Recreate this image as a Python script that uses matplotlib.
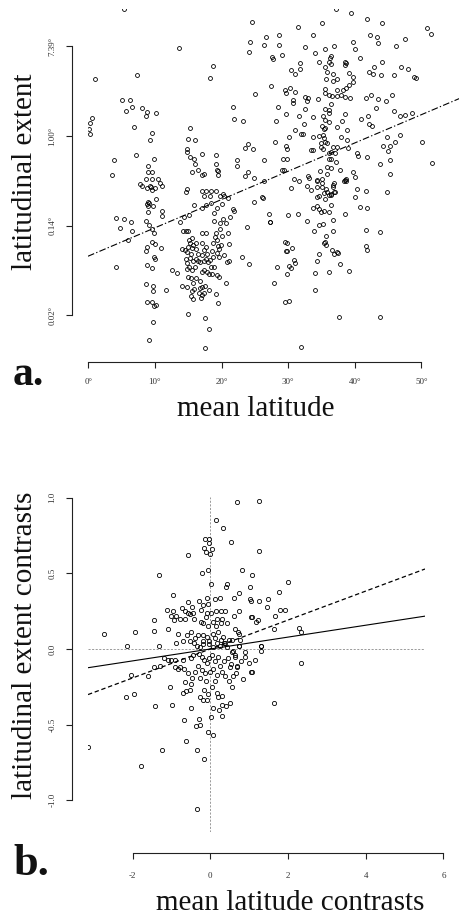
import numpy as np
import matplotlib
matplotlib.use("Agg")
import matplotlib.pyplot as plt

W, H, DPI = 460, 916, 100
plt.rcParams["font.family"] = ["Liberation Serif", "DejaVu Serif"]

# ---------------- panel a: species ranges ----------------
mean_lat = [
    5.3, 13.6, 18.7, 18.3, 1.0, 7.3, 5.1, 6.2, 5.7, 6.5,
    8.1, 8.8, 8.7, 10.1, 0.5, 0.3, 0.1, 0.2, 6.9, 9.6,
    9.2, 15.2, 15.0, 16.0, 7.2, 9.8, 3.8, 14.8, 14.8, 15.3,
    15.9, 16.0, 17.0, 19.2, 19.1, 8.9, 8.9, 9.6, 15.5, 16.4,
    17.1, 17.4, 19.3, 19.4, 19.4, 3.6, 8.7, 9.5, 10.5, 10.7,
    11.0, 7.8, 8.1, 8.8, 9.3, 9.6, 10.0, 9.4, 14.6, 14.8,
    17.0, 17.7, 18.4, 19.1, 19.8, 20.2, 20.4, 17.4, 18.3, 10.1,
    8.9, 8.8, 9.0, 9.1, 9.7, 11.1, 11.0, 8.9, 4.2, 5.4,
    6.4, 4.8, 6.6, 5.9, 8.6, 9.1, 9.6, 9.8, 9.6, 10.0,
    10.9, 8.8, 8.7, 9.8, 10.0, 8.8, 9.6, 4.2, 12.6, 13.3,
    11.7, 8.6, 9.7, 9.7, 8.8, 9.6, 9.9, 10.1, 9.7, 9.1,
    14.9, 17.5, 18.1, 17.5, 15.8, 15.1, 14.3, 13.8, 17.0, 17.7,
    18.4, 19.3, 20.0, 21.0,
    14.2, 14.6, 14.9, 15.5, 15.1, 15.3, 15.0, 15.5, 15.7, 14.1,
    14.5, 14.8, 15.4, 15.2, 14.6, 15.7, 14.8, 16.2, 16.2, 16.4,
    16.1, 16.7, 16.0, 15.1, 17.0, 17.7, 17.1, 17.6, 17.4, 17.1,
    17.8, 17.6, 17.4, 18.3, 17.9, 18.7, 18.5, 18.7, 19.2, 19.0,
    19.3, 19.4, 19.6, 19.3, 19.6, 19.9, 20.1, 19.7, 20.6, 19.8,
    20.2, 18.8, 18.9, 20.9, 21.1, 20.8, 20.4, 21.3,
    14.8, 15.6, 15.0, 15.4, 16.2, 16.7, 15.7, 14.8, 14.1, 15.5,
    15.9, 16.7, 17.1, 17.5, 17.1, 17.3, 17.8, 18.4, 18.8, 18.6,
    18.1, 19.3, 19.6, 18.1, 17.4, 17.0, 16.6, 15.4, 15.7, 16.9,
    19.1, 19.4, 20.7, 21.1, 16.4,
    37.2, 39.4, 24.5, 41.9, 44.1, 31.5, 35.1, 50.8, 51.5, 26.6,
    28.7, 33.7, 24.2, 26.3, 28.6, 42.3, 43.4, 43.5, 39.7, 46.2,
    47.6, 24.1, 27.5, 27.7, 29.1, 32.6, 35.5, 36.9, 34.0, 40.1,
    40.8, 36.3, 36.5, 34.6, 36.2, 36.4, 38.6, 38.7, 38.5, 31.8,
    30.5, 31.1, 31.8, 44.1, 42.9, 42.2, 42.8, 43.9, 45.9, 47.0,
    48.0, 48.9, 49.2, 35.6, 35.8, 36.7, 35.7, 36.8, 37.3, 39.1,
    39.7, 39.7, 39.1, 38.7, 38.3, 27.4, 25.0, 29.6, 29.7, 30.3,
    31.0, 30.8, 30.7, 32.5, 33.0, 32.9, 32.5, 34.5, 35.6, 35.6,
    36.1, 36.6, 37.4, 38.0, 38.6, 39.3, 37.4, 41.7, 42.4, 43.5,
    44.7, 45.6, 43.2, 21.7, 21.9, 23.2,
    28.5, 29.7, 28.2, 31.6, 33.7, 35.6, 36.1, 36.5, 36.2, 35.2,
    35.5, 36.2, 37.3, 38.6, 38.1, 38.8, 40.9, 42.0, 42.2, 42.6,
    45.9, 46.8, 47.5, 48.6, 50.1, 51.6, 30.1, 32.4, 31.1, 32.0,
    32.2, 33.8, 34.7, 35.4, 35.1, 35.6, 35.2, 35.4, 28.1, 29.7,
    29.9, 35.0, 34.9, 35.5, 35.8, 35.3, 33.5, 33.7, 36.7, 37.4,
    37.9, 38.8, 39.0, 40.3, 40.5, 41.8, 44.2, 44.9, 45.3, 46.1,
    46.8, 45.0, 45.3, 43.8, 45.3, 23.5, 23.9, 24.7, 22.3, 22.3,
    26.3, 29.3, 29.9, 29.1, 29.4, 23.5, 23.9, 24.8, 26.4, 30.9,
    31.6, 33.0, 33.1, 34.3, 34.4, 34.8, 35.1, 35.9, 35.8, 36.5,
    36.1, 37.0, 36.1, 36.4, 37.2, 36.5, 37.8, 38.6, 39.8, 40.0,
    38.7, 40.3, 41.7, 44.8, 30.4, 32.8, 33.4, 34.3, 35.1, 35.7,
    35.8, 36.9, 36.8, 37.1, 26.0, 26.2, 34.4, 34.7, 35.5, 36.1,
    36.4, 40.0,
    35.1, 35.4, 36.8, 36.9, 36.5, 38.4, 38.7, 24.8, 21.7, 21.9,
    23.8, 27.1, 27.2, 27.3, 30.0, 31.5, 32.8, 33.7, 34.4, 34.6,
    34.9, 35.4, 36.2, 36.5, 38.5, 40.8, 41.8, 33.9, 34.6, 35.3,
    36.7, 36.8, 41.7, 43.8, 29.5, 29.8, 29.7, 29.8, 30.6, 30.9,
    31.0, 30.1, 30.4, 28.4, 29.8, 27.8, 23.0, 24.1, 35.4, 35.6,
    35.7, 35.7, 34.6, 34.3, 36.6, 36.9, 37.4, 37.5, 37.8, 34.1,
    36.1, 39.2, 34.0, 41.7, 41.8, 29.6, 30.2, 37.6, 43.8, 31.9,
]
# natural log of latitudinal extent (degrees)
log_extent = [
    2.83, 1.97, 1.56, 1.29, 1.28, 1.36, 0.80, 0.80, 0.56, 0.64,
    0.62, 0.54, 0.44, 0.51, 0.40, 0.28, 0.16, 0.04, 0.21, 0.07,
    -0.10, 0.17, -0.07, -0.10, -0.42, -0.51, -0.54, -0.29, -0.35, -0.48,
    -0.52, -0.62, -0.41, -0.43, -0.62, -0.68, -0.80, -0.80, -0.80, -0.77,
    -0.87, -0.85, -0.76, -0.78, -0.86, -0.86, -0.96, -0.97, -0.96, -1.04,
    -1.11, -1.08, -1.11, -1.17, -1.11, -1.20, -1.17, -1.14, -1.24, -1.18,
    -1.23, -1.23, -1.23, -1.22, -1.34, -1.30, -1.35, -1.35, -1.34, -1.41,
    -1.47, -1.52, -1.56, -1.49, -1.56, -1.67, -1.78, -1.69, -1.82, -1.85,
    -1.92, -2.06, -2.12, -2.32, -1.90, -1.99, -2.08, -2.16, -2.36, -2.42,
    -2.49, -2.47, -2.57, -2.71, -2.74, -2.89, -2.95, -2.92, -2.99, -3.05,
    -3.44, -3.30, -3.35, -3.47, -3.70, -3.70, -3.79, -3.78, -4.14, -4.56,
    -3.97, -4.07, -4.31, -4.72, -1.55, -1.76, -1.81, -1.92, -1.61, -1.53,
    -1.50, -1.60, -1.52, -1.38,
    -2.11, -2.11, -2.11, -2.27, -2.32, -2.39, -2.47, -2.51, -2.44, -2.53,
    -2.54, -2.60, -2.63, -2.72, -2.74, -2.80, -2.83, -2.39, -2.53, -2.63,
    -2.74, -2.82, -2.92, -2.92, -2.16, -2.16, -2.39, -2.47, -2.54, -2.66,
    -2.63, -2.74, -2.78, -2.77, -2.81, -2.71, -2.56, -2.39, -2.16, -2.25,
    -2.32, -2.45, -2.53, -2.62, -2.69, -2.43, -2.23, -2.08, -1.95, -1.95,
    -1.86, -1.89, -1.72, -2.17, -2.41, -2.81, -2.65, -1.80,
    -2.97, -2.99, -3.15, -3.18, -3.18, -3.23, -3.29, -3.36, -3.35, -3.46,
    -3.41, -3.39, -3.38, -3.35, -3.03, -2.99, -3.03, -2.92, -2.93, -3.09,
    -3.08, -3.10, -3.14, -3.44, -3.50, -3.55, -3.51, -3.58, -3.64, -3.61,
    -3.52, -3.73, -3.27, -2.80, -2.80,
    2.83, 2.74, 2.55, 2.60, 2.53, 2.44, 2.51, 2.42, 2.28, 2.21,
    2.26, 2.26, 2.09, 2.02, 2.02, 2.26, 2.21, 2.07, 2.10, 2.01,
    2.16, 1.87, 1.76, 1.72, 1.80, 1.98, 1.95, 2.01, 1.84, 1.93,
    1.75, 1.74, 1.78, 1.64, 1.64, 1.60, 1.64, 1.62, 1.58, 1.62,
    1.47, 1.39, 1.49, 1.66, 1.53, 1.43, 1.38, 1.37, 1.36, 1.54,
    1.49, 1.31, 1.29, 1.53, 1.43, 1.38, 1.27, 1.23, 1.28, 1.41,
    1.32, 1.20, 1.14, 1.08, 1.03, 1.12, 0.94, 1.02, 0.96, 1.06,
    0.97, 0.80, 0.74, 0.88, 0.85, 0.77, 0.61, 0.83, 1.04, 0.95,
    0.91, 0.89, 0.89, 0.91, 0.87, 0.84, 1.03, 0.85, 0.92, 0.83,
    0.77, 0.92, 0.63, 0.65, 0.37, 0.34,
    0.64, 0.49, 0.33, 0.45, 0.43, 0.61, 0.57, 0.71, 0.51, 0.44,
    0.36, 0.31, 0.20, 0.49, 0.33, 0.13, 0.37, 0.45, 0.27, 0.22,
    0.55, 0.45, 0.46, 0.52, -0.13, -0.61, -0.02, 0.27, 0.14, 0.05,
    0.05, -0.02, 0.00, 0.16, 0.22, 0.18, 0.02, -0.04, -0.13, -0.22,
    -0.29, -0.15, -0.24, -0.13, -0.16, -0.28, -0.32, -0.31, -0.24, -0.24,
    -0.03, -0.09, -0.27, -0.39, -0.44, -0.48, -0.22, -0.02, -0.22, -0.13,
    0.03, -0.33, -0.53, -0.63, -0.84, -0.26, -0.18, -0.28, -0.54, -0.68,
    -0.54, -0.51, -0.52, -0.76, -0.77, -0.89, -0.80, -0.93, -1.01, -0.97,
    -1.00, -0.89, -0.93, -0.99, -1.00, -0.79, -0.96, -0.69, -0.85, -0.51,
    -0.51, -0.39, -0.37, -0.35, -0.59, -0.71, -0.76, -0.99, -0.81, -0.92,
    -0.95, -1.18, -1.23, -1.26, -1.15, -1.12, -1.20, -1.14, -1.14, -1.18,
    -1.25, -1.04, -1.09, -1.24, -1.37, -1.38, -1.36, -1.35, -1.40, -1.32,
    -1.30, -1.37,
    -1.04, -1.28, -1.13, -1.26, -1.32, -1.00, -1.00, -1.47, -1.64, -1.67,
    -2.04, -1.75, -1.92, -1.93, -1.76, -1.74, -1.90, -1.61, -1.57, -1.63,
    -1.70, -1.67, -1.70, -1.54, -1.73, -1.59, -1.61, -2.13, -1.98, -1.97,
    -1.88, -2.13, -2.09, -2.15, -2.37, -2.39, -2.56, -2.57, -2.49, -2.77,
    -2.83, -2.90, -2.94, -2.92, -3.08, -3.29, -2.69, -2.86, -2.39, -2.37,
    -2.43, -2.24, -2.64, -2.80, -2.54, -2.63, -2.59, -2.61, -2.86, -3.05,
    -3.04, -3.01, -3.44, -2.46, -2.55, -3.70, -3.68, -4.04, -4.04, -4.71,
]
fit_a_intercept, fit_a_slope = -2.68, 0.0631
lat_ticks = [0, 10, 20, 30, 40, 50]
log_ext_ticks = [-4, -2, 0, 2]

# ---------------- panel b: independent contrasts ----------------
lat_contrast = [
    0.14, 0.32, -0.14, -0.03, -0.16, -0.03, 0.04, -0.12, 0.00, -0.57,
    -0.22, -0.07, -1.32, 0.01, 0.43, 0.40, -0.96, -0.58, -0.29, -0.20,
    -0.08, -0.06, 0.12, 0.25, -1.12, -0.96, -0.88, -1.02, -0.74, -0.64,
    -0.57, -0.46, -0.53, -0.44, -0.23, -0.08, -0.12, 0.01, 0.15, 0.27,
    0.18, 0.30, 0.39, -1.44, -0.93, -0.78, -0.64, -0.41, -0.24, -0.18,
    -0.05, 0.06, 0.15, 0.27, 0.42, -2.73, -1.95, -1.46, -1.10, -0.83,
    -0.71, -0.61, -0.49, -0.52, -0.39, -0.32, -0.18, -0.18, -0.09, -0.03,
    0.08, 0.12, 0.21, 0.27, 0.33, 0.39, 0.49, -2.15, -1.32, -0.89,
    0.68, 1.26, 0.53, 1.26, 0.82, 1.07, 1.03, 0.73, 1.76, 2.00,
    0.61, 1.01, 1.06, 1.25, 1.48, 1.45, 0.73, 0.62, 1.66, 1.79,
    1.93, 1.05, 1.07, 1.18, 1.22, 0.63, 0.70, 0.74, 1.63, 2.28,
    2.34, 0.56, 0.76, 0.74, 1.30,
    -0.43, -0.35, -0.26, -0.18, -0.03, 0.08, 0.17, 0.25, 0.34, 0.42,
    -1.45, -1.29, -2.05, -1.60, -2.18, -1.96, -1.43, -0.99, -1.05, -1.19,
    -1.10, -1.01, -0.90, -0.78, -0.68, -0.71, -0.50, -0.44, -0.92, -0.83,
    -0.58, -0.46, -0.65, -0.49, -0.71, -0.63, -0.52, -0.49, -0.27, -0.16,
    -0.18, -0.09, -0.05, 0.05, 0.12, 0.16, 0.21, 0.29, 0.29, 0.22,
    0.40, 0.51, -0.30, -0.21, -0.16, -0.09, -0.03, 0.04, 0.12, 0.21,
    0.25, 0.35, 0.45, 0.51, -0.31, -0.22, -0.14, -0.01, 0.08, 0.16,
    0.29, 0.38, 0.49, -0.12, -0.27, -0.39, -0.68, -0.28, -0.27, -0.37,
    -0.06, 0.08, -0.63, -1.24, -0.35, -0.15, -1.78, -3.16, -0.35, 0.08,
    0.01, 0.29,
    1.31, 1.31, 0.75, 0.59, 0.55, 0.63, 0.64, 0.89, 0.89, 1.00,
    1.15, 0.80, 0.53, 0.68, 0.68, 0.67, 0.58, 0.83, 0.55, 1.05,
    1.07, 1.63, 2.34,
]
extent_contrast = [
    0.85, 0.80, 0.73, 0.73, 0.67, 0.70, 0.66, 0.64, 0.63, 0.62,
    0.50, 0.52, 0.49, 0.43, 0.43, 0.41, 0.36, 0.31, 0.32, 0.29,
    0.34, 0.30, 0.33, 0.34, 0.26, 0.25, 0.22, 0.22, 0.27, 0.25,
    0.24, 0.28, 0.23, 0.24, 0.26, 0.24, 0.21, 0.24, 0.25, 0.25,
    0.20, 0.20, 0.25, 0.19, 0.19, 0.20, 0.20, 0.20, 0.18, 0.17,
    0.15, 0.18, 0.15, 0.17, 0.17, 0.10, 0.11, 0.12, 0.13, 0.10,
    0.05, 0.09, 0.11, 0.05, 0.07, 0.09, 0.09, 0.05, 0.08, 0.05,
    0.10, 0.07, 0.11, 0.06, 0.08, 0.04, 0.06, 0.02, 0.02, 0.04,
    0.97, 0.98, 0.71, 0.65, 0.52, 0.49, 0.41, 0.37, 0.38, 0.44,
    0.34, 0.33, 0.32, 0.32, 0.33, 0.28, 0.25, 0.22, 0.22, 0.26,
    0.26, 0.21, 0.21, 0.18, 0.19, 0.13, 0.11, 0.10, 0.13, 0.14,
    0.11, 0.06, 0.06, 0.02, 0.02,
    0.04, 0.02, 0.01, 0.03, 0.03, 0.01, 0.04, 0.02, 0.04, 0.01,
    -0.12, -0.11, -0.17, -0.18, -0.32, -0.30, -0.38, -0.37, -0.25, -0.06,
    -0.07, -0.07, -0.07, -0.12, -0.13, -0.07, -0.06, -0.04, -0.12, -0.13,
    -0.16, -0.19, -0.22, -0.23, -0.29, -0.28, -0.27, -0.39, -0.32, -0.27,
    -0.34, -0.34, -0.30, -0.25, -0.21, -0.29, -0.32, -0.31, -0.37, -0.40,
    -0.38, -0.36, -0.03, -0.05, -0.07, -0.09, -0.06, -0.04, -0.08, -0.05,
    -0.11, -0.08, -0.06, -0.12, -0.11, -0.14, -0.16, -0.15, -0.13, -0.17,
    -0.15, -0.18, -0.21, -0.21, -0.19, -0.15, -0.47, -0.46, -0.50, -0.51,
    -0.55, -0.57, -0.61, -0.67, -0.67, -0.73, -0.77, -0.65, -1.06, -0.39,
    -0.45, -0.44,
    0.02, -0.01, 0.02, -0.01, -0.02, -0.04, -0.05, -0.02, -0.05, -0.09,
    -0.07, -0.08, -0.10, -0.11, -0.12, -0.16, -0.18, -0.20, -0.25, -0.15,
    -0.15, -0.36, -0.09,
]
slope_ols = 0.0957      # dashed line, through the origin
slope_robust = 0.0393   # solid line, through the origin
contrast_x_ticks = [-2, 0, 2, 4, 6]
contrast_y_ticks = [-1.0, -0.5, 0.0, 0.5, 1.0]

PT = 0.72  # points per pixel at 100 dpi
AX_COLOR = "#222222"
TICK_LABEL_COLOR = "#333333"


def box(left, top, right, bottom):
    return [left / W, 1 - bottom / H, (right - left) / W, (bottom - top) / H]


def r_style_spines(ax, left_out=None, bottom_out=None):
    for side in ("top", "right", "left", "bottom"):
        ax.spines[side].set_visible(False)
    if left_out is not None:
        sp = ax.spines["left"]
        sp.set_visible(True)
        sp.set_position(("outward", left_out * PT))
        sp.set_linewidth(0.8)
        sp.set_color(AX_COLOR)
    if bottom_out is not None:
        sp = ax.spines["bottom"]
        sp.set_visible(True)
        sp.set_position(("outward", bottom_out * PT))
        sp.set_linewidth(0.8)
        sp.set_color(AX_COLOR)
    ax.tick_params(direction="out", length=4.3, width=0.8, color=AX_COLOR,
                   labelsize=6.5, labelcolor=TICK_LABEL_COLOR, pad=7)
    ax.patch.set_visible(False)


fig = plt.figure(figsize=(W / DPI, H / DPI), dpi=DPI)

# ---- panel a ----
ax_a = fig.add_axes(box(88, 8.5, 460, 352))
ax_a.set_xlim(-0.05, 55.8)
ax_a.set_ylim(-4.82, 2.844)
ax_a.plot(mean_lat, log_extent, "o", ms=2.8, mfc="none", mec="black", mew=0.6)
ax_a.axline((0, fit_a_intercept), slope=fit_a_slope, color="black", lw=0.8,
            dashes=[6, 2, 1.2, 2])
r_style_spines(ax_a, left_out=16, bottom_out=10)
ax_a.spines["left"].set_bounds(log_ext_ticks[0], log_ext_ticks[-1])
ax_a.spines["bottom"].set_bounds(lat_ticks[0], lat_ticks[-1])
ax_a.set_xticks(lat_ticks)
ax_a.set_xticklabels([f"{t}°" for t in lat_ticks])
ax_a.set_yticks(log_ext_ticks)
ax_a.set_yticklabels([f"{np.exp(t):.2f}°" for t in log_ext_ticks],
                     rotation=90, va="center")

# ---- panel b ----
ax_b = fig.add_axes(box(88, 496.7, 425, 832))
ax_b.set_xlim(-3.148, 5.526)
ax_b.set_ylim(-1.2095, 1.0066)
ax_b.axvline(0, color="#8a8a8a", lw=0.6, dashes=[2.5, 1.8])
ax_b.axhline(0, color="#8a8a8a", lw=0.6, dashes=[2.5, 1.8])
ax_b.axline((0, 0), slope=slope_ols, color="black", lw=0.9, dashes=[3.5, 2.2])
ax_b.axline((0, 0), slope=slope_robust, color="black", lw=0.8)
ax_b.plot(lat_contrast, extent_contrast, "o", ms=3.0, mfc="none", mec="black",
          mew=0.6)
r_style_spines(ax_b, left_out=16)
ax_b.spines["left"].set_bounds(contrast_y_ticks[0], contrast_y_ticks[-1])
ax_b.set_xticks([])
ax_b.set_yticks(contrast_y_ticks)
ax_b.set_yticklabels([f"{t:.1f}" for t in contrast_y_ticks], rotation=90,
                     va="center")

# bottom axis of panel b runs past the plotting region, so it gets its own axes
ax_bx = fig.add_axes(box(88, 496.7, 460, 832))
ax_bx.set_xlim(-3.148, 6.427)
ax_bx.set_ylim(0, 1)
r_style_spines(ax_bx, bottom_out=21.3)
ax_bx.spines["bottom"].set_bounds(contrast_x_ticks[0], contrast_x_ticks[-1])
ax_bx.set_yticks([])
ax_bx.set_xticks(contrast_x_ticks)
ax_bx.set_xticklabels([f"{t}" for t in contrast_x_ticks])
ax_bx.tick_params(axis="x", pad=9)

# ---- titles and panel letters ----
label_kw = dict(fontsize=21, color="#111111", ha="center", va="center")
fig.text(25 / W, 1 - 172 / H, "latitudinal extent", rotation=90, **label_kw)
fig.text(256 / W, 1 - 409 / H, "mean latitude", **label_kw)
fig.text(25 / W, 1 - 645 / H, "latitudinal extent contrasts", rotation=90,
         **label_kw)
fig.text(290 / W, 1 - 903 / H, "mean latitude contrasts", **label_kw)

fig.text(13 / W, 1 - 385 / H, "a.", fontsize=30, fontweight="bold",
         ha="left", va="baseline", color="#111111")
fig.text(13 / W, 1 - 875 / H, "b.", fontsize=32, fontweight="bold",
         ha="left", va="baseline", color="#111111")

fig.savefig("out.png", dpi=DPI)
